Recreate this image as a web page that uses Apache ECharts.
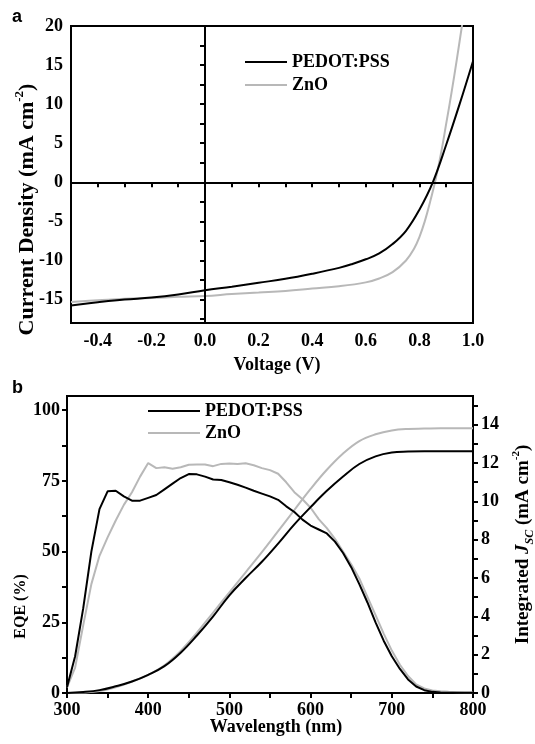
<!DOCTYPE html>
<html>
<head>
<meta charset="utf-8">
<script src="https://cdn.jsdelivr.net/npm/echarts@6/dist/echarts.min.js"></script>
<style>
  html, body { margin: 0; padding: 0; background: #fff; }
  #main { width: 535px; height: 744px; }
</style>
</head>
<body>
<div id="main"></div>
<script>
// panel a: J-V curves (V in volts, J in mA cm^-2)
const pedotV = [-0.5, -0.4, -0.3, -0.2, -0.1, 0.0, 0.1, 0.2, 0.3, 0.4, 0.5, 0.55, 0.6, 0.65, 0.7, 0.75, 0.8, 0.85, 0.9, 0.95, 1.0]
const pedotJ = [-15.75, -15.35, -15.0, -14.75, -14.35, -13.8, -13.35, -12.85, -12.35, -11.7, -10.95, -10.45, -9.85, -9.1, -7.9, -6.2, -3.5, 0.0, 4.8, 10.0, 15.5]
const znoV = [-0.5, -0.4, -0.3, -0.2, -0.1, 0.0, 0.1, 0.2, 0.3, 0.4, 0.5, 0.6, 0.65, 0.7, 0.75, 0.78, 0.8, 0.82, 0.84, 0.86, 0.88, 0.9, 0.92, 0.94, 0.96, 0.97]
const znoJ = [-15.3, -15.1, -14.9, -14.8, -14.65, -14.55, -14.3, -14.1, -13.9, -13.6, -13.3, -12.8, -12.3, -11.5, -10.0, -8.5, -7.0, -5.0, -2.5, 0.3, 3.6, 7.5, 11.5, 15.8, 20.3, 22.5]

const voltTicks = [-0.5, -0.4, -0.3, -0.2, -0.1, 0, 0.1, 0.2, 0.3, 0.4, 0.5, 0.6, 0.7, 0.8, 0.9, 1.0]
const voltLabels = [-0.4, -0.2, 0, 0.2, 0.4, 0.6, 0.8, 1.0]
const jTicks = [-17.5, -15, -12.5, -10, -7.5, -5, -2.5, 0, 2.5, 5, 7.5, 10, 12.5, 15, 17.5, 20]
const jLabels = [-15, -10, -5, 0, 5, 10, 15, 20]

// panel b: EQE (%) every 10 nm
const eqeWl = [300, 310, 320, 330, 340, 350, 360, 370, 380, 390, 400, 410, 420, 430, 440, 450, 460, 470, 480, 490,
  500, 510, 520, 530, 540, 550, 560, 570, 580, 590, 600, 610, 620, 630, 640, 650, 660, 670, 680, 690,
  700, 710, 720, 730, 740, 750, 760, 770, 780, 790, 800]
const pedotEqe = [2, 13, 30, 50, 65, 71.3, 71.5, 69.5, 68, 68, 69, 70, 72, 74, 76, 77.4, 77.3, 76.5, 75.5, 75.3,
  74.5, 73.6, 72.6, 71.5, 70.5, 69.5, 68.3, 66, 64, 61.3, 59.2, 57.8, 56.4, 53.5, 49.5, 44.5, 38.5, 32, 25, 18.5,
  13, 8.5, 4.8, 2.3, 1.0, 0.4, 0.2, 0.1, 0.1, 0.1, 0.1]
const znoEqe = [2, 9, 24, 38.5, 48.5, 55, 61, 66.5, 71, 76.5, 81.3, 79.5, 79.8, 79.3, 79.8, 80.7, 80.8, 80.8, 80.2, 81,
  81.1, 81, 81.2, 80.5, 79.5, 78.8, 77.5, 74.5, 71, 68.5, 65.5, 61.5, 58.3, 54.5, 50, 45.5, 40.5, 34, 27.5, 21,
  15, 10, 6, 3, 1.6, 0.9, 0.6, 0.4, 0.3, 0.2, 0.2]

// integrated Jsc (mA cm^-2) every 20 nm
const jscWl = [300, 320, 340, 360, 380, 400, 420, 440, 460, 480, 500, 520, 540, 560, 580, 600, 620, 640, 660, 680, 700, 720, 740, 760, 780, 800]
const pedotJsc = [0, 0.05, 0.15, 0.35, 0.6, 0.95, 1.4, 2.1, 3.0, 4.0, 5.1, 6.0, 6.85, 7.8, 8.8, 9.7, 10.55, 11.3, 11.95, 12.35, 12.55, 12.6, 12.62, 12.62, 12.62, 12.62]
const znoJsc = [0, 0.02, 0.1, 0.3, 0.6, 0.95, 1.45, 2.2, 3.15, 4.2, 5.25, 6.3, 7.35, 8.45, 9.55, 10.65, 11.65, 12.5, 13.15, 13.5, 13.7, 13.78, 13.8, 13.82, 13.82, 13.82]

const wlTicks = [300, 350, 400, 450, 500, 550, 600, 650, 700, 750, 800]
const wlLabels = [300, 400, 500, 600, 700, 800]
const eqeTicks = [0, 12.5, 25, 37.5, 50, 62.5, 75, 87.5, 100]
const eqeLabels = [0, 25, 50, 75, 100]
const jscTicks = [0, 1, 2, 3, 4, 5, 6, 7, 8, 9, 10, 11, 12, 13, 14, 15]
const jscLabels = [0, 2, 4, 6, 8, 10, 12, 14]

const zip = (xs, ys) => xs.map((x, i) => [x, ys[i]])

const serif = 'Liberation Serif'
const grey = '#b8b8b8'
const txt = { fontFamily: serif, fontWeight: 'bold', fontSize: 18, color: '#000' }
const axLine = { show: true, lineStyle: { color: '#000', width: 2 } }
const tick = (vals) => ({ show: true, inside: false, length: 5, lineStyle: { color: '#000', width: 2 }, customValues: vals })
const rich = (size) => ({
  sup: { fontFamily: serif, fontWeight: 'bold', fontSize: Math.round(size * 0.6), color: '#000', verticalAlign: 'top' },
  sub: { fontFamily: serif, fontWeight: 'bold', fontStyle: 'italic', fontSize: Math.round(size * 0.65), color: '#000', verticalAlign: 'bottom' },
  i: { fontFamily: serif, fontWeight: 'bold', fontStyle: 'italic', fontSize: size, color: '#000', lineHeight: size + 6 }
})

const chart = echarts.init(document.getElementById('main'))

const option = {
  animation: false,
  backgroundColor: '#fff',
  title: [
    { text: 'a', left: 12, top: 8, padding: 0, textStyle: { fontFamily: 'Liberation Sans', fontWeight: 'bold', fontSize: 18, color: '#000' } },
    { text: 'b', left: 12, top: 379, padding: 0, textStyle: { fontFamily: 'Liberation Sans', fontWeight: 'bold', fontSize: 18, color: '#000' } }
  ],
  legend: [
    {
      data: ['PEDOT:PSS', 'ZnO'], orient: 'vertical', left: 245, top: 52, padding: 0, icon: 'rect',
      itemWidth: 42, itemHeight: 2, itemGap: 3, textStyle: { ...txt, lineHeight: 20 }
    },
    {
      data: ['PEDOT:PSS', 'ZnO'], orient: 'vertical', left: 148, top: 401, padding: 0, icon: 'rect',
      itemWidth: 52, itemHeight: 2, itemGap: 2, textStyle: { ...txt, lineHeight: 20 }
    }
  ],
  grid: [
    { left: 71, top: 26, width: 402, height: 297, show: true, borderColor: '#000', borderWidth: 2, outerBoundsMode: 'none' },
    { left: 67, top: 396, width: 406, height: 297, show: true, borderColor: '#000', borderWidth: 2, outerBoundsMode: 'none' }
  ],
  xAxis: [
    {
      type: 'value', gridIndex: 0, min: -0.5, max: 1.0,
      axisLine: axLine, axisTick: tick(voltTicks), splitLine: { show: false },
      axisLabel: { ...txt, margin: 9, customValues: voltLabels, formatter: v => v.toFixed(1) },
      name: 'Voltage (V)', nameLocation: 'middle', nameGap: 33, nameMoveOverlap: false,
      nameTextStyle: { ...txt, padding: [0, 0, 0, 10] }
    },
    {
      type: 'value', gridIndex: 1, min: 300, max: 800,
      axisLine: axLine, axisTick: tick(wlTicks), splitLine: { show: false },
      axisLabel: { ...txt, margin: 8, customValues: wlLabels },
      name: 'Wavelength (nm)', nameLocation: 'middle', nameGap: 25, nameMoveOverlap: false,
      nameTextStyle: { ...txt, padding: [0, 0, 0, 12] }
    }
  ],
  yAxis: [
    {
      type: 'value', gridIndex: 0, min: -18, max: 20,
      axisLine: axLine, axisTick: tick(jTicks), splitLine: { show: false },
      axisLabel: { ...txt, margin: 8, customValues: jLabels },
      name: 'Current Density (mA cm{sup|-2})', nameLocation: 'middle', nameGap: 30, nameRotate: 90, nameMoveOverlap: false,
      nameTextStyle: { ...txt, fontSize: 22, lineHeight: 28, padding: [0, 70, 0, 0], rich: rich(22) }
    },
    {
      type: 'value', gridIndex: 1, min: 0, max: 105,
      axisLine: axLine, axisTick: tick(eqeTicks), splitLine: { show: false },
      axisLabel: { ...txt, margin: 7, customValues: eqeLabels },
      name: 'EQE (%)', nameLocation: 'middle', nameGap: 38, nameRotate: 90, nameMoveOverlap: false,
      nameTextStyle: { ...txt, fontSize: 16, padding: [0, 124, 0, 0] }
    },
    {
      type: 'value', gridIndex: 1, position: 'right', min: 0, max: 15.5,
      axisLine: axLine, axisTick: tick(jscTicks), splitLine: { show: false },
      axisLabel: { ...txt, margin: 8, customValues: jscLabels },
      name: 'Integrated {i|J}{sub|SC} (mA cm{sup|-2})', nameLocation: 'middle', nameGap: 38, nameRotate: 90, nameMoveOverlap: false,
      nameTextStyle: { ...txt, fontSize: 19, lineHeight: 25, rich: rich(19) }
    }
  ],
  series: [
    {
      name: 'ZnO', type: 'line', xAxisIndex: 0, yAxisIndex: 0, data: zip(znoV, znoJ),
      symbol: 'none', smooth: 0.4, lineStyle: { color: grey, width: 2 }, itemStyle: { color: grey }
    },
    {
      name: 'PEDOT:PSS', type: 'line', xAxisIndex: 0, yAxisIndex: 0, data: zip(pedotV, pedotJ),
      symbol: 'none', smooth: 0.4, lineStyle: { color: '#000', width: 2 }, itemStyle: { color: '#000' },
      markLine: {
        silent: true, symbol: 'none', label: { show: false },
        lineStyle: { color: '#000', width: 2, type: 'solid' },
        data: [{ yAxis: 0 }, { xAxis: 0 }]
      }
    },
    {
      name: 'ZnO', type: 'line', xAxisIndex: 1, yAxisIndex: 1, data: zip(eqeWl, znoEqe),
      symbol: 'none', lineStyle: { color: grey, width: 2 }, itemStyle: { color: grey }
    },
    {
      name: 'ZnO', type: 'line', xAxisIndex: 1, yAxisIndex: 2, data: zip(jscWl, znoJsc),
      symbol: 'none', smooth: 0.4, lineStyle: { color: grey, width: 2 }, itemStyle: { color: grey }
    },
    {
      name: 'PEDOT:PSS', type: 'line', xAxisIndex: 1, yAxisIndex: 1, data: zip(eqeWl, pedotEqe),
      symbol: 'none', lineStyle: { color: '#000', width: 2 }, itemStyle: { color: '#000' }
    },
    {
      name: 'PEDOT:PSS', type: 'line', xAxisIndex: 1, yAxisIndex: 2, data: zip(jscWl, pedotJsc),
      symbol: 'none', smooth: 0.4, lineStyle: { color: '#000', width: 2 }, itemStyle: { color: '#000' }
    }
  ]
}

chart.setOption(option)
</script>
</body>
</html>
